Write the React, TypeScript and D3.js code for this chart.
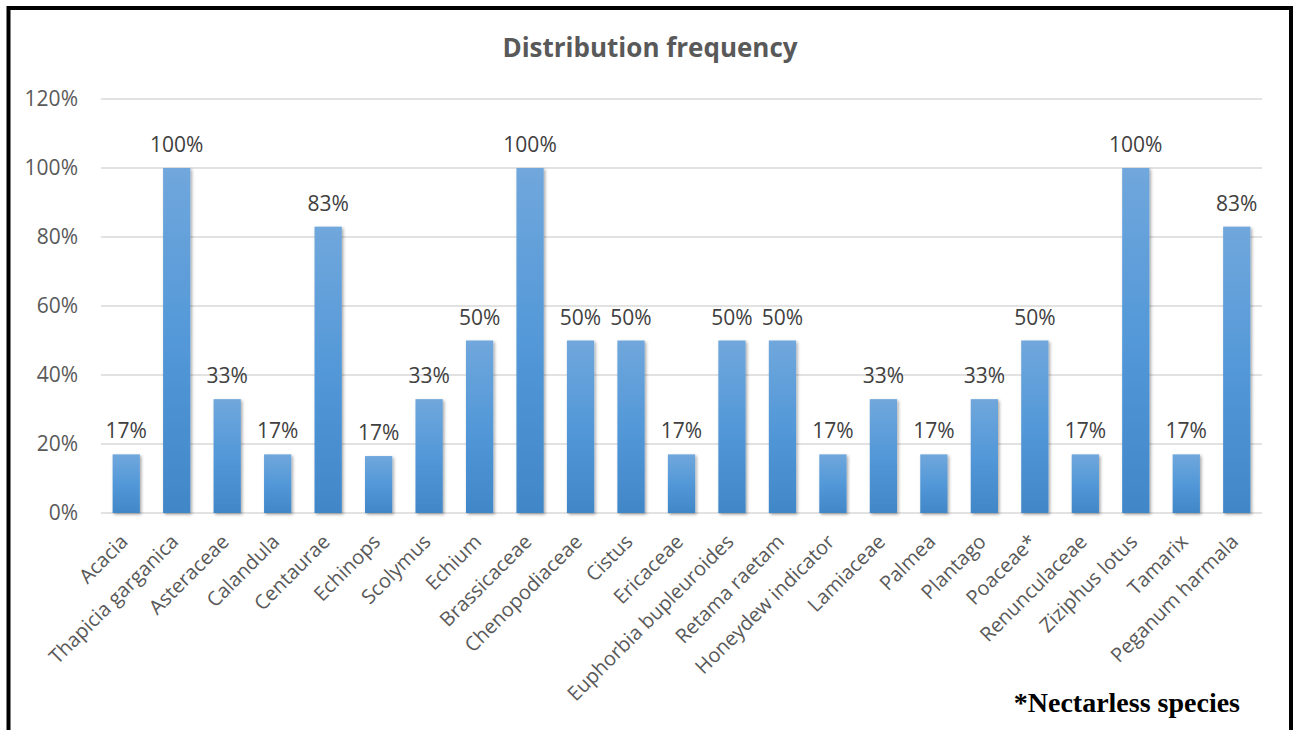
import React from "react";
import * as d3 from "d3";

const categories = [
  "Acacia", "Thapicia garganica", "Asteraceae", "Calandula", "Centaurae",
  "Echinops", "Scolymus", "Echium", "Brassicaceae", "Chenopodiaceae",
  "Cistus", "Ericaceae", "Euphorbia bupleuroides", "Retama raetam",
  "Honeydew indicator", "Lamiaceae", "Palmea", "Plantago", "Poaceae*",
  "Renunculaceae", "Ziziphus lotus", "Tamarix", "Peganum harmala",
];
const frequency = [
  0.17, 1.0, 0.33, 0.17, 0.83,
  0.165, 0.33, 0.5, 1.0, 0.5,
  0.5, 0.17, 0.5, 0.5,
  0.17, 0.33, 0.17, 0.33, 0.5,
  0.17, 1.0, 0.17, 0.83,
];
const yTicks = [0, 0.2, 0.4, 0.6, 0.8, 1.0, 1.2];
const title = "Distribution frequency";
const footnote = "*Nectarless species";

const W = 1299;
const H = 730;
const FONT = "'Open Sans', sans-serif";

export default function App() {
  const x = d3.scaleBand<string>().domain(categories).range([101, 1262]).paddingInner(0.46).paddingOuter(0.23);
  const y = d3.scaleLinear().domain([0, 1.2]).range([513, 99]);
  const fmt = (v: number) => `${Math.round(v * 100)}%`;

  return (
    <svg
      width={W}
      height={H}
      style={{ position: "absolute", left: 0, top: 0, background: "#fff" }}
    >
      <defs>
        <linearGradient id="barFill" x1="0" y1="0" x2="0" y2="1">
          <stop offset="0%" stopColor="#70a7dc" />
          <stop offset="50%" stopColor="#5398d8" />
          <stop offset="100%" stopColor="#4187c8" />
        </linearGradient>
        <filter id="barShadow" x="-30%" y="-10%" width="160%" height="130%">
          <feDropShadow dx="1.5" dy="1.5" stdDeviation="1.6" floodColor="#000" floodOpacity="0.35" />
        </filter>
      </defs>

      <rect x={0} y={0} width={W} height={H} fill="#fff" />
      <rect x={8.5} y={8} width={1282.5} height={740} fill="none" stroke="#000" strokeWidth={4} />

      <text x={650} y={57} textAnchor="middle" fontFamily={FONT} fontWeight={700} fontSize={26} fill="#595959">
        {title}
      </text>

      {yTicks.map((t) => (
        <g key={t}>
          <line x1={101} x2={1262} y1={y(t)} y2={y(t)} stroke="#d9d9d9" strokeWidth={1.5} />
          <text x={78} y={y(t)} dy="0.35em" textAnchor="end" fontFamily={FONT} fontSize={21} fill="#595959">
            {fmt(t)}
          </text>
        </g>
      ))}

      {categories.map((c, i) => {
        const v = frequency[i];
        const bx = x(c)!;
        const bw = x.bandwidth();
        const cx = bx + bw / 2;
        return (
          <g key={c}>
            <rect x={bx} y={y(v)} width={bw} height={y(0) - y(v)} fill="url(#barFill)" filter="url(#barShadow)" />
            <text x={cx} y={y(v) - 16} textAnchor="middle" fontFamily={FONT} fontSize={21} fill="#404040">
              {fmt(v)}
            </text>
            <text
              transform={`translate(${cx - 2},${538}) rotate(-45)`}
              textAnchor="end"
              dy="0.35em"
              fontFamily={FONT}
              fontSize={20}
              fill="#595959"
            >
              {c}
            </text>
          </g>
        );
      })}

      <text x={1240} y={712} textAnchor="end" fontFamily="'Liberation Serif', 'Times New Roman', serif" fontWeight={700} fontSize={28} fill="#000">
        {footnote}
      </text>
    </svg>
  );
}
